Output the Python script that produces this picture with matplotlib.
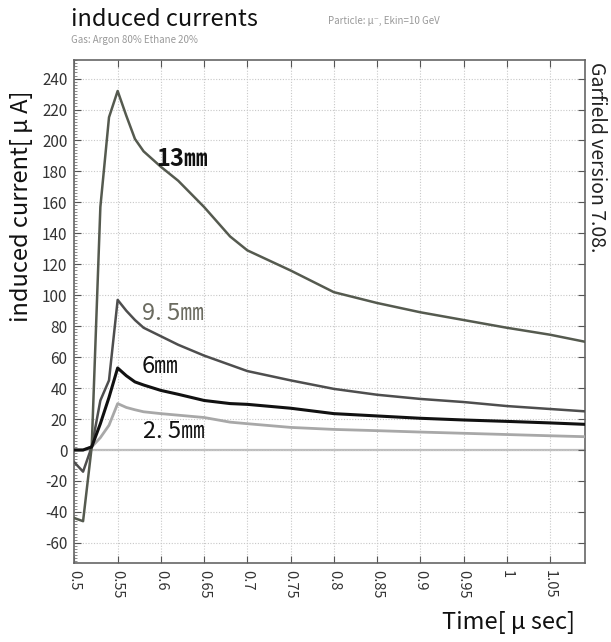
import matplotlib
matplotlib.use("Agg")
import matplotlib.pyplot as plt
from matplotlib.ticker import MultipleLocator, FixedLocator

plt.rcParams['font.family'] = ['Noto Sans CJK JP', 'DejaVu Sans']

# time samples [μsec]
time = [0.50, 0.51, 0.52, 0.53, 0.54, 0.55, 0.56, 0.57, 0.58, 0.60, 0.62, 0.65,
        0.68, 0.70, 0.75, 0.80, 0.85, 0.90, 0.95, 1.00, 1.05, 1.09]

cur_13mm = [-44, -46, 2, 157, 215, 232, 216, 201, 193, 183, 174, 157,
            138, 129, 116, 102, 95, 89, 84, 79, 74.5, 70]
cur_9_5mm = [-8, -14, 2, 32, 45, 97, 90, 84, 79, 73.5, 68, 61,
             55, 51, 45, 39.5, 35.7, 33, 31, 28.4, 26.5, 25]
cur_6mm = [0, 0, 2, 17, 34, 53, 48, 44, 42, 38.5, 36, 32,
           30, 29.5, 27, 23.5, 22, 20.5, 19.4, 18.5, 17.5, 16.6]
cur_2_5mm = [0, 0, 2, 8, 16, 30, 27.5, 26, 24.7, 23.5, 22.5, 21,
             18, 17, 14.6, 13.3, 12.5, 11.6, 10.8, 10, 9.2, 8.6]

series_labels = ["13㎜", "9. 5㎜", "6㎜", "2. 5㎜"]
x_ticks = [0.5, 0.55, 0.6, 0.65, 0.7, 0.75, 0.8, 0.85, 0.9, 0.95, 1.0, 1.05]
x_ticklabels = ["0.5", "0.55", "0.6", "0.65", "0.7", "0.75", "0.8", "0.85",
                "0.9", "0.95", "1", "1.05"]
y_ticks = [-60, -40, -20, 0, 20, 40, 60, 80, 100, 120, 140, 160, 180, 200, 220, 240]

fig = plt.figure(figsize=(6.11, 6.42), dpi=100)
ax = fig.add_axes([0.1218, 0.1231, 0.8357, 0.7834])

ax.set_xlim(0.5, 1.0905)
ax.set_ylim(-73, 252)

ax.grid(True, which='major', color='#c8c8c8', linestyle=(0, (1, 1.5)), linewidth=0.8)
ax.axhline(0, color='#bdbdbd', linewidth=1.6, zorder=1)

ax.plot(time, cur_2_5mm, color='#a8a8a8', linewidth=2.0, zorder=3)
ax.plot(time, cur_6mm, color='#111111', linewidth=2.2, zorder=4)
ax.plot(time, cur_9_5mm, color='#4e4e4e', linewidth=1.8, zorder=3)
ax.plot(time, cur_13mm, color='#555a4f', linewidth=1.8, zorder=3)

ax.text(0.595, 188, series_labels[0], fontsize=17, color='#111111', va='center', ha='left',
        fontweight='bold')
ax.text(0.578, 88, series_labels[1], fontsize=17, color='#6b6b60', va='center', ha='left')
ax.text(0.578, 54, series_labels[2], fontsize=17, color='#111111', va='center', ha='left')
ax.text(0.579, 12, series_labels[3], fontsize=17, color='#111111', va='center', ha='left')

ax.xaxis.set_major_locator(FixedLocator(x_ticks))
ax.set_xticklabels(x_ticklabels, rotation=-90, fontsize=10.5, color='#333333')
ax.yaxis.set_major_locator(FixedLocator(y_ticks))
ax.set_yticklabels([str(v) for v in y_ticks], fontsize=11, color='#333333')
ax.yaxis.set_minor_locator(MultipleLocator(2))
ax.tick_params(which='major', direction='in', length=5, width=0.8, color='#555555',
               top=True, right=True, pad=5)
ax.tick_params(which='minor', axis='y', direction='in', length=2.5, width=0.6,
               color='#777777', left=True, right=False)
for s in ax.spines.values():
    s.set_color('#666666')
    s.set_linewidth(1.2)

fig.text(0.036, 0.678, "induced current[ μ A]", rotation=90, fontsize=17,
         ha='center', va='center', color='#111111')
fig.text(0.833, 0.030, "Time[ μ sec]", fontsize=17, ha='center', va='center', color='#111111')
fig.text(0.116, 0.970, "induced currents", fontsize=17, ha='left', va='center', color='#111111')
fig.text(0.116, 0.938, "Gas: Argon 80% Ethane 20%", fontsize=7, ha='left', va='center', color='#999999')
fig.text(0.537, 0.968, "Particle: μ⁻, Ekin=10 GeV", fontsize=7, ha='left', va='center', color='#999999')
fig.text(0.976, 0.755, "Garfield version 7.08.", rotation=-90, fontsize=14,
         ha='center', va='center', color='#222222')

fig.savefig("out.png", dpi=100, facecolor='white')
